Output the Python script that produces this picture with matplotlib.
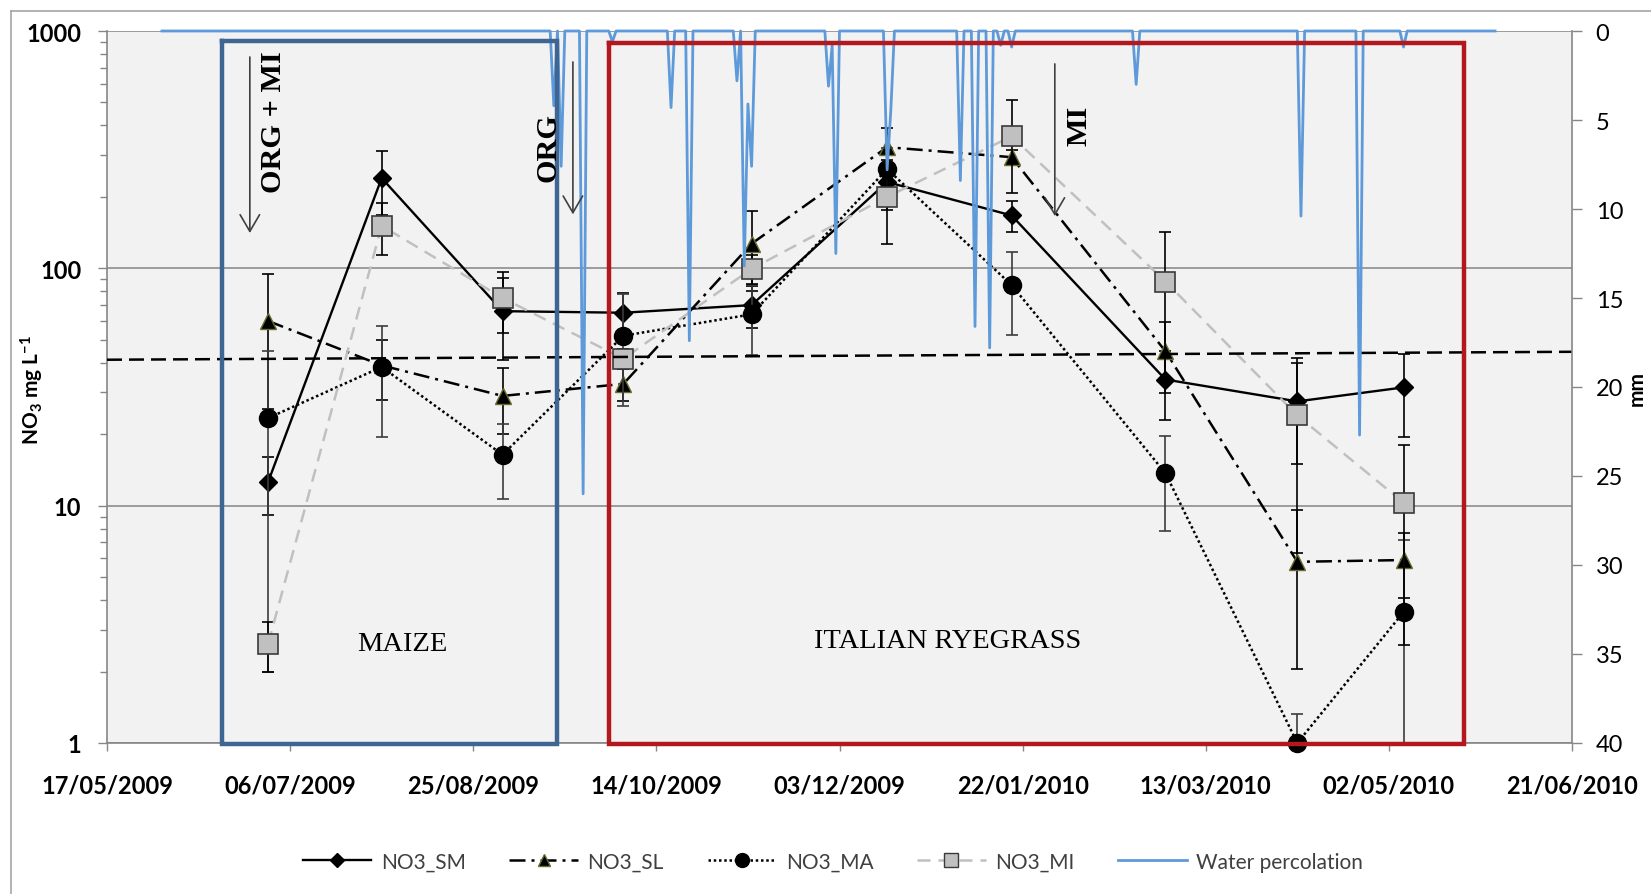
import matplotlib
matplotlib.use("Agg")
import matplotlib.pyplot as plt
import matplotlib.dates as mdates
from matplotlib.lines import Line2D
from matplotlib.ticker import FixedLocator, LogLocator, NullFormatter, FuncFormatter
import numpy as np
import pandas as pd

plt.rcParams["font.family"] = ["Lato", "DejaVu Sans"]
plt.rcParams["mathtext.fontset"] = "custom"
plt.rcParams["mathtext.rm"] = "Lato:bold"
plt.rcParams["mathtext.it"] = "Lato:bold"
plt.rcParams["mathtext.bf"] = "Lato:bold"

# ---- leachate sampling (NO3 mg/L, mean and standard deviation) ----
sample_dates = ["2009-06-30", "2009-07-31", "2009-09-02", "2009-10-05", "2009-11-09",
                "2009-12-16", "2010-01-19", "2010-03-02", "2010-04-07", "2010-05-06"]

no3_sm = [12.6, 240, 66, 65, 70, 231, 167, 34, 27.5, 31.5]
no3_sm_err = [3.5, 73, 25, 13.5, 14, 55, 25, 11, 12.5, 12]
no3_sl = [60, 39, 29, 32.6, 127, 324, 294, 44.7, 5.8, 5.9]
no3_sl_err = [34.5, 11, 9, 5, 47, 65, 20, 15, 3.75, 1.8]
no3_ma = [23.4, 38.4, 16.4, 52, 64, 262, 85, 13.7, 1.0, 3.56]
no3_ma_err = [21.4, 19, 5.7, 25.7, 21, 60, 32.6, 5.9, 0.33, 3.6]
no3_mi = [2.62, 151, 75, 41.6, 99.5, 200, 360, 88, 24, 10.3]
no3_mi_err = [0.62, 37, 21.5, 4, 14, 73, 152, 54.5, 17.7, 7.7]

# ---- daily water percolation (mm); days not listed had no drainage ----
perc_start, perc_end = "2009-06-01", "2010-05-31"
perc_dates = ["2009-09-16", "2009-09-18", "2009-09-24", "2009-10-02", "2009-10-18",
              "2009-10-23", "2009-11-05", "2009-11-07", "2009-11-08", "2009-11-09",
              "2009-11-30", "2009-12-01", "2009-12-02", "2009-12-16", "2009-12-17",
              "2010-01-05", "2010-01-09", "2010-01-13", "2010-01-16", "2010-01-19",
              "2010-02-22", "2010-04-08", "2010-04-24", "2010-05-06"]
perc_mm = [4.2, 7.6, 26.0, 0.6, 4.3,
           17.4, 2.8, 13.2, 4.1, 7.6,
           3.1, 0.8, 12.5, 7.8, 4.5,
           8.4, 16.6, 17.8, 0.8, 0.9,
           3.0, 10.4, 22.7, 0.9]

# nitrate limit guide line (hand drawn, slightly tilted)
limit_left, limit_right = 41.2, 44.5

x_start, x_end = "2009-05-17", "2010-06-21"
x_tick_dates = pd.date_range(x_start, x_end, freq="50D")
y_ticks = [1, 10, 100, 1000]
mm_ticks = list(range(0, 45, 5))


def dn(s):
    return mdates.date2num(pd.Timestamp(s))


W, H = 1651, 895
fig = plt.figure(figsize=(W / 100, H / 100), dpi=100)
fig.patch.set_facecolor("white")
L, R, T, B = 107, 1572, 32, 744
ax = fig.add_axes([L / W, 1 - B / H, (R - L) / W, (B - T) / H])
ax.set_facecolor("#f2f2f2")
ax.set_yscale("log")
ax.set_ylim(1, 1000)
ax.set_xlim(dn(x_start), dn(x_end))
ax.set_axisbelow(True)
ax.grid(axis="y", which="major", color="#8c8c8c", lw=1.2)

grey = "#868686"
for s in ["top", "right"]:
    ax.spines[s].set_visible(False)
for s in ["left", "bottom"]:
    ax.spines[s].set_color(grey)
    ax.spines[s].set_linewidth(1.2)

ax.xaxis.set_major_locator(FixedLocator(mdates.date2num(x_tick_dates.to_pydatetime())))
ax.xaxis.set_major_formatter(mdates.DateFormatter("%d/%m/%Y"))
ax.tick_params(axis="x", direction="out", length=5.5, width=1, color=grey, pad=16.5,
               labelsize=17)
ax.yaxis.set_major_locator(FixedLocator(y_ticks))
ax.yaxis.set_major_formatter(FuncFormatter(lambda v, p: f"{v:g}"))
ax.yaxis.set_minor_locator(LogLocator(base=10, subs=np.arange(2, 10)))
ax.yaxis.set_minor_formatter(NullFormatter())
ax.tick_params(axis="y", which="major", direction="out", length=6.5, width=1, color=grey,
               pad=12, labelsize=17)
ax.tick_params(axis="y", which="minor", direction="out", length=5, width=1, color=grey)
for lbl in ax.get_xticklabels() + ax.get_yticklabels():
    lbl.set_fontweight("bold")

xs = mdates.date2num(pd.to_datetime(sample_dates).to_pydatetime())


def draw_series(vals, errs, z, ecolor, **kw):
    vals = np.asarray(vals, float)
    errs = np.asarray(errs, float)
    lo = np.where(vals - errs > 0, errs, vals - 0.5)
    ax.errorbar(xs, vals, yerr=[lo, errs], fmt="none", ecolor=ecolor, elinewidth=1.2,
                capsize=4, capthick=1.2, zorder=z)
    ax.plot(xs, vals, clip_on=False, zorder=z + 0.05, **kw)


draw_series(no3_sm, no3_sm_err, 2.0, "black", color="black", lw=1.7, ls="-",
            marker="D", ms=9, mfc="black", mec="black")
draw_series(no3_sl, no3_sl_err, 2.2, "black", color="black", lw=1.8,
            ls=(0, (6.4, 2.4, 1.2, 2.4)), marker="^", ms=11, mfc="black", mec="#6b6b2e")
draw_series(no3_ma, no3_ma_err, 2.4, "#3c3c3c", color="black", lw=1.8, ls=(0, (1, 1.1)),
            marker="o", ms=13, mfc="black", mec="black")
draw_series(no3_mi, no3_mi_err, 2.6, "black", color="#c0c0c0", lw=1.8, ls=(0, (5.2, 3.2)),
            marker="s", ms=15, mfc="#c0c0c0", mec="#3a3a3a", mew=1.2)

ax.plot([dn(x_start), dn(x_end)], [limit_left, limit_right], color="black", lw=1.8,
        ls=(0, (6, 2.8)), zorder=2.9, clip_on=False)

# ---- secondary axis: water percolation ----
ax2 = ax.twinx()
ax2.set_ylim(40, 0)
ax2.set_yticks(mm_ticks)
for s in ["top", "left", "bottom"]:
    ax2.spines[s].set_visible(False)
ax2.spines["right"].set_color(grey)
ax2.spines["right"].set_linewidth(1.2)
ax2.tick_params(axis="y", direction="out", length=7, width=1, color=grey, pad=10,
                labelsize=17)

days = pd.date_range(perc_start, perc_end, freq="D")
perc = pd.Series(0.0, index=days)
perc[pd.to_datetime(perc_dates)] = perc_mm
ax2.plot(mdates.date2num(days.to_pydatetime()), perc.values, color="#5e9ad9", lw=2.0,
         clip_on=False, zorder=3)


# crop period frames
def frame(x0, x1, top, bottom, color):
    ax2.plot([x0, x1, x1, x0, x0], [top, top, bottom, bottom, top], color=color, lw=3.2,
             solid_joinstyle="miter", clip_on=False, zorder=10)


frame(dn("2009-06-17 10:00"), dn("2009-09-17"), 0.56, 40.05, "#3f6592")
frame(dn("2009-10-01 02:00"), dn("2010-05-22 14:00"), 0.67, 40.05, "#b3181e")

serif = "Liberation Serif"
ax2.text(dn("2009-08-05 12:00"), 34.4, "MAIZE", ha="center", va="center", family=serif,
         fontsize=20.5, zorder=11)
ax2.text(dn("2010-01-01 14:00"), 34.25, "ITALIAN RYEGRASS", ha="center", va="center",
         family=serif, fontsize=20.5, zorder=11)

# fertilisation events
arrow_kw = dict(arrowstyle="->, head_length=1.2, head_width=0.7", color="#404040", lw=1.2,
                shrinkA=0, shrinkB=0, mutation_scale=10)
for xd, y0, y1 in [("2009-06-25", 1.46, 11.35), ("2009-09-21 05:00", 1.74, 10.3),
                   ("2010-01-30 19:00", 1.85, 10.4)]:
    ax2.annotate("", xy=(dn(xd), y1), xytext=(dn(xd), y0), arrowprops=arrow_kw, zorder=11,
                 annotation_clip=False)
ax2.text(dn("2009-07-01 14:00"), 5.06, "ORG + MI", rotation=90, ha="center", va="center",
         family=serif, fontweight="bold", fontsize=21.8, zorder=11)
ax2.text(dn("2009-09-14 10:00"), 6.5, "ORG", rotation=90, ha="center", va="center",
         family=serif, fontweight="bold", fontsize=21.8, zorder=11)
ax2.text(dn("2010-02-06 10:00"), 5.3, "MI", rotation=90, ha="center", va="center",
         family=serif, fontweight="bold", fontsize=21.8, zorder=11)

# axis titles
fig.text(32 / W, 1 - 390 / H, r"NO$_3$ mg L$^{-1}$", rotation=90, ha="center", va="center",
         fontsize=15, fontweight="bold")
fig.text(1637 / W, 1 - 389 / H, "mm", rotation=90, ha="center", va="center", fontsize=15,
         fontweight="bold")

# legend
handles = [
    Line2D([], [], color="black", lw=1.7, marker="D", ms=7, mfc="black", mec="black"),
    Line2D([], [], color="black", lw=1.8, ls=(0, (6.4, 2.4, 1.2, 2.4)), marker="^", ms=9,
           mfc="black", mec="#6b6b2e"),
    Line2D([], [], color="black", lw=1.8, ls=(0, (1, 1.1)), marker="o", ms=10, mfc="black",
           mec="black"),
    Line2D([], [], color="#c0c0c0", lw=1.8, ls=(0, (5.2, 3.2)), marker="s", ms=10,
           mfc="#c0c0c0", mec="#3a3a3a"),
    Line2D([], [], color="#5e9ad9", lw=2.0),
]
labels = ["NO3_SM", "NO3_SL", "NO3_MA", "NO3_MI", "Water percolation"]
fig.legend(handles, labels, loc="center", bbox_to_anchor=(0.5045, 1 - 862.7 / H), ncol=5,
           frameon=False, fontsize=15, handlelength=3.3, handletextpad=0.45,
           columnspacing=2.1, labelcolor="#404040")

# chart area border
fig.add_artist(Line2D([10.5 / W, 10.5 / W], [0, 1 - 12.3 / H], color="#a6a6a6", lw=1.2,
                      transform=fig.transFigure))
fig.add_artist(Line2D([10.5 / W, 1], [1 - 12.3 / H, 1 - 12.3 / H], color="#a6a6a6", lw=1.2,
                      transform=fig.transFigure))

fig.savefig("out.png", dpi=100, facecolor="white")
